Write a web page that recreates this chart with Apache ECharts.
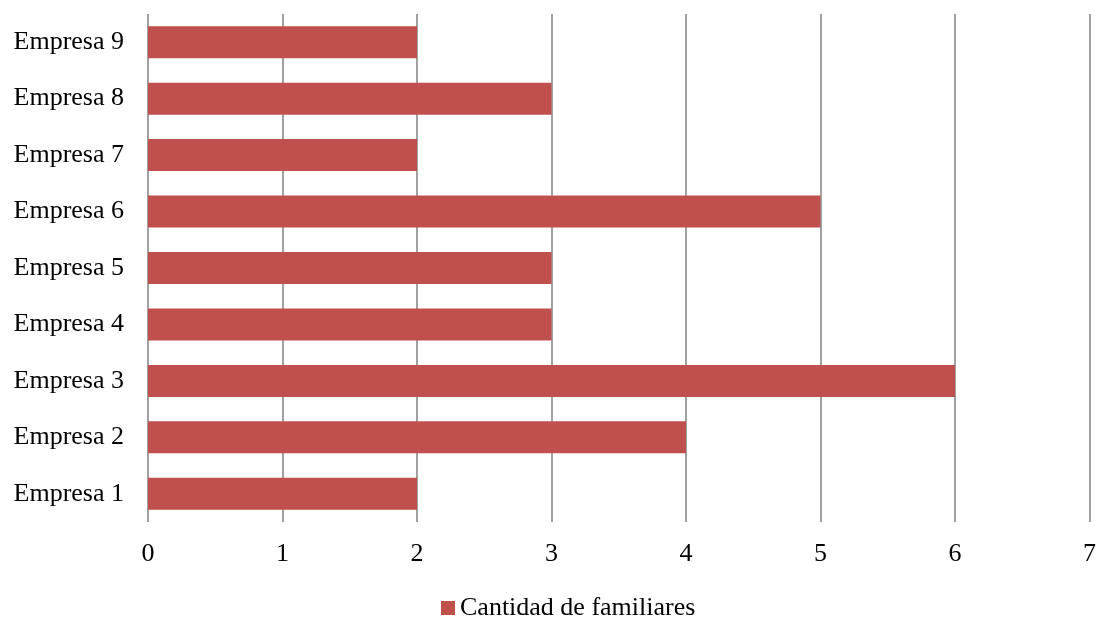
<!DOCTYPE html>
<html>
<head>
<meta charset="utf-8">
<script src="https://cdn.jsdelivr.net/npm/echarts@6/dist/echarts.min.js"></script>
<style>html,body{margin:0;padding:0;background:#fff;}#c{width:1099px;height:619px;}</style>
</head>
<body>
<div id="c"></div>
<script>
var categories = ['Empresa 1','Empresa 2','Empresa 3','Empresa 4','Empresa 5','Empresa 6','Empresa 7','Empresa 8','Empresa 9'];
var values = [2,4,6,3,3,5,2,3,2];
var seriesName = 'Cantidad de familiares';

var chart = echarts.init(document.getElementById('c'), null, {renderer:'canvas'});
var font = 'Liberation Serif';
chart.setOption({
  animation: false,
  textStyle: {fontFamily: font},
  grid: {left: 148, right: 7, top: 14, bottom: 97, containLabel: false},
  legend: {
    data: [seriesName],
    left: 436, top: 588,
    icon: 'rect', itemWidth: 14, itemHeight: 14, itemGap: 5,
    textStyle: {fontFamily: font, fontSize: 26, color: '#000', lineHeight: 30}
  },
  xAxis: {
    type: 'value', min: 0, max: 7, interval: 1,
    axisLine: {show: false}, axisTick: {show: false},
    splitLine: {show: true, lineStyle: {color: '#8a8a8a', width: 1.6}},
    axisLabel: {fontFamily: font, fontSize: 26, color: '#000', margin: 19}
  },
  yAxis: {
    type: 'category', data: categories,
    axisLine: {show: false}, axisTick: {show: false},
    axisLabel: {fontFamily: font, fontSize: 26, color: '#000', margin: 24}
  },
  series: [{
    name: seriesName, type: 'bar', data: values, barWidth: 32,
    itemStyle: {color: '#C0504D'}
  }]
});
</script>
</body>
</html>
